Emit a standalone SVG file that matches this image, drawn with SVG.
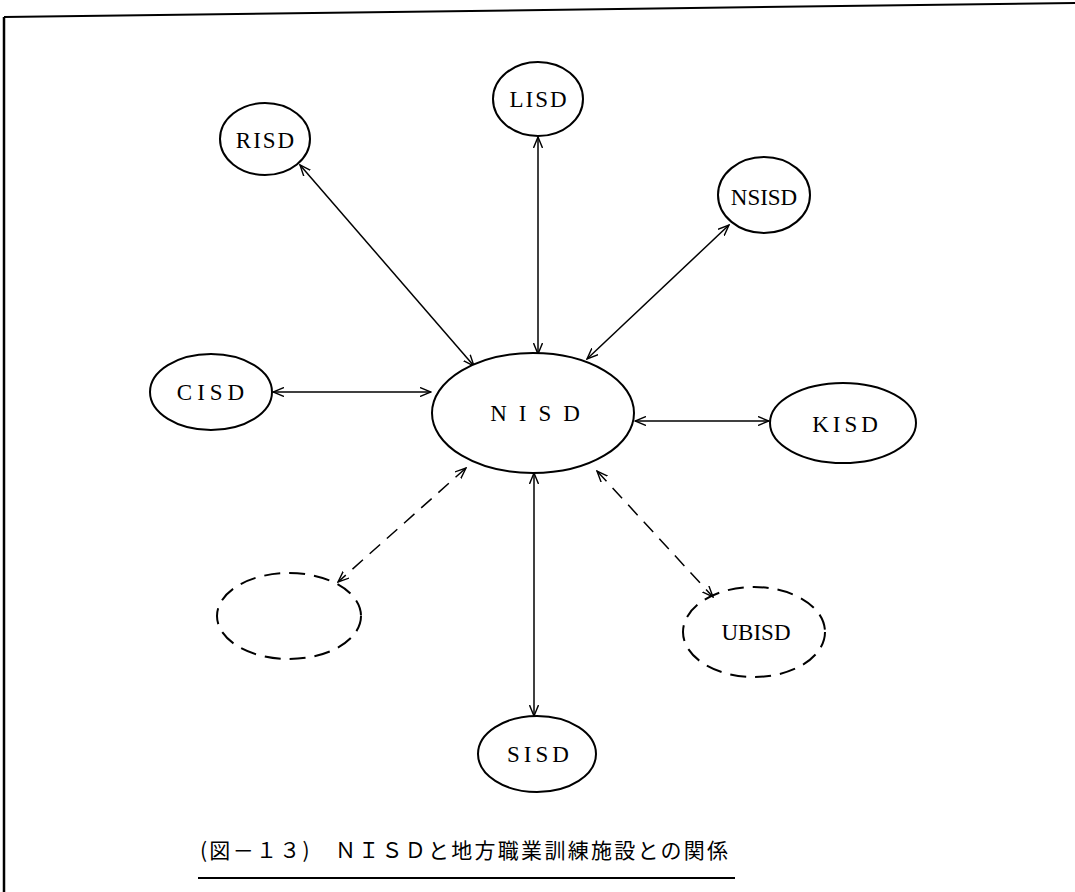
<svg xmlns="http://www.w3.org/2000/svg" width="1075" height="892" viewBox="0 0 1075 892">
<defs>
<marker id="ah" viewBox="0 0 12 10" refX="11" refY="5" markerWidth="12" markerHeight="10" markerUnits="userSpaceOnUse" orient="auto-start-reverse">
<path d="M0,0.5 L11,5 L0,9.5" fill="none" stroke="#000" stroke-width="1.4"/>
</marker>
</defs>
<style>
.n{fill:#fff;stroke:#000;stroke-width:2}
.d{fill:none;stroke:#000;stroke-width:2;stroke-dasharray:16 9}
.t{font-family:"Liberation Serif","DejaVu Serif",serif;font-size:23px;fill:#000;text-anchor:middle;dominant-baseline:central}
.c{stroke:#000;stroke-width:1.5;fill:none;marker-start:url(#ah);marker-end:url(#ah)}
.cd{stroke:#000;stroke-width:1.5;fill:none;stroke-dasharray:14 9;marker-start:url(#ah);marker-end:url(#ah)}
</style>
<rect width="1075" height="892" fill="#fff"/>
<g id="frame">
<path d="M4,17 L1075,3" stroke="#000" stroke-width="2" fill="none"/>
<path d="M4,17 L4,892" stroke="#000" stroke-width="2.5" fill="none"/>
</g>
<g id="connectors">
<line class="c" x1="538" y1="137" x2="538" y2="354"/>
<line class="c" x1="300" y1="165" x2="474" y2="366"/>
<line class="c" x1="729" y1="225" x2="587" y2="359"/>
<line class="c" x1="273" y1="392" x2="431" y2="392"/>
<line class="c" x1="635" y1="421" x2="769" y2="421"/>
<line class="c" x1="534" y1="473" x2="534" y2="716"/>
<line class="cd" x1="466" y1="468" x2="338" y2="582"/>
<line class="cd" x1="597" y1="471" x2="713" y2="597"/>
</g>
<g id="LISD"><ellipse class="n" cx="538" cy="99" rx="45" ry="37"/><text class="t" x="539" y="99" letter-spacing="2">LISD</text></g>
<g id="NSISD"><ellipse class="n" cx="764" cy="195" rx="46" ry="38"/><text class="t" x="764" y="197">NSISD</text></g>
<g id="RISD"><ellipse class="n" cx="265" cy="139" rx="45" ry="36"/><text class="t" x="266" y="140" letter-spacing="2">RISD</text></g>
<g id="CISD"><ellipse class="n" cx="211" cy="392" rx="61" ry="38"/><text class="t" x="213" y="392" letter-spacing="5">CISD</text></g>
<g id="NISD"><ellipse class="n" cx="533" cy="413" rx="101" ry="60"/><text class="t" x="541" y="413" letter-spacing="12">NISD</text></g>
<g id="KISD"><ellipse class="n" cx="843" cy="423" rx="73" ry="40"/><text class="t" x="847" y="424" letter-spacing="4">KISD</text></g>
<g id="blank"><ellipse class="d" cx="289" cy="616" rx="72" ry="43"/></g>
<g id="UBISD"><ellipse class="d" cx="754" cy="632" rx="71" ry="45"/><text class="t" x="756" y="632">UBISD</text></g>
<g id="SISD"><ellipse class="n" cx="537" cy="754" rx="59" ry="38"/><text class="t" x="540" y="754" letter-spacing="4">SISD</text></g>
<g id="caption">
<text x="200" y="858" font-family="'Noto Sans CJK JP','Noto Sans',sans-serif" font-size="21" textLength="528" lengthAdjust="spacing">(図－１３)　ＮＩＳＤと地方職業訓練施設との関係</text>
<line x1="198" y1="878" x2="735" y2="878" stroke="#000" stroke-width="2"/>
</g>
</svg>
